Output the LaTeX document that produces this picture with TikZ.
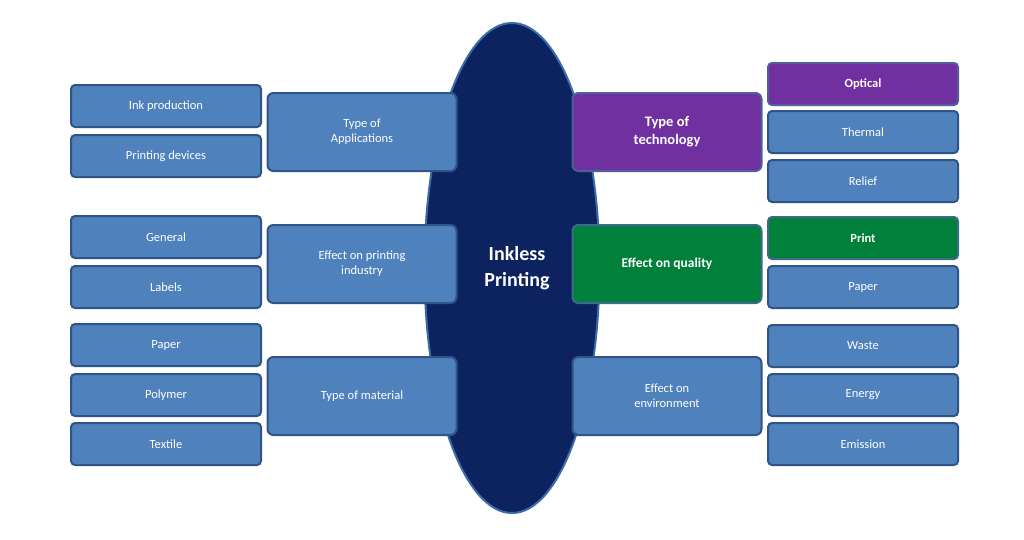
\documentclass[tikz,border=0pt]{standalone}
\usetikzlibrary{shapes.geometric}
\usepackage{fontspec}
\setmainfont{Carlito}
\begin{document}
\begin{tikzpicture}[x=1pt,y=-1pt,
  box/.style={draw=boxline,line width=2pt,fill=boxfill,rounded corners=4pt,text=white,align=center,font=\fontsize{12.5}{15}\selectfont,inner sep=0pt},
  sm/.style={box,minimum width=190pt,minimum height=42pt},
  md/.style={box,minimum width=189pt,minimum height=78pt,rounded corners=6pt},
  pur/.style={fill=purp,draw=purpline,font=\bfseries\fontsize{12.5}{15}\selectfont},
  grn/.style={fill=grn,draw=grnline,font=\bfseries\fontsize{12.5}{15}\selectfont},
  grnm/.style={fill=grn,draw=grnline,font=\bfseries\fontsize{13.5}{17}\selectfont},
  purm/.style={fill=purp,draw=purpline,font=\bfseries\fontsize{14.5}{18}\selectfont}]
\definecolor{boxfill}{HTML}{4F81BD}
\definecolor{boxline}{HTML}{2F5587}
\definecolor{purp}{HTML}{7030A0}
\definecolor{purpline}{HTML}{4F5F9A}
\definecolor{grn}{HTML}{00803A}
\definecolor{grnline}{HTML}{3D6A8A}
\definecolor{navy}{HTML}{0D2360}
\definecolor{navyline}{HTML}{3A6AAA}
\useasboundingbox[fill=white] (0,0) rectangle (1024,539);
\node[ellipse,draw=navyline,line width=2pt,fill=navy,minimum width=175pt,minimum height=490pt,inner sep=0pt] (core) at (512,268) {};
\node[text=white,font=\bfseries\fontsize{20}{26}\selectfont,align=center] (title) at (517,268) {Inkless\\Printing};
% left small
\node[sm] (l1) at (166,106) {Ink production};
\node[sm] (l2) at (166,156) {Printing devices};
\node[sm] (l3) at (166,237) {General};
\node[sm] (l4) at (166,287) {Labels};
\node[sm] (l5) at (166,345) {Paper};
\node[sm] (l6) at (166,395) {Polymer};
\node[sm] (l7) at (166,444) {Textile};
% left mid
\node[md] (m1) at (362,132) {Type of\\Applications};
\node[md] (m2) at (362,264) {Effect on printing\\industry};
\node[md] (m3) at (362,396) {Type of material};
% right mid
\node[md,purm] (m4) at (667,132) {Type of\\technology};
\node[md,grnm] (m5) at (667,264) {Effect on quality};
\node[md] (m6) at (667,396) {Effect on\\environment};
% right small
\node[sm,pur] (r1) at (863,84) {Optical};
\node[sm] (r2) at (863,132) {Thermal};
\node[sm] (r3) at (863,181) {Relief};
\node[sm,grn] (r4) at (863,238) {Print};
\node[sm] (r5) at (863,287) {Paper};
\node[sm] (r6) at (863,346) {Waste};
\node[sm] (r7) at (863,395) {Energy};
\node[sm] (r8) at (863,444) {Emission};
\end{tikzpicture}
\end{document}
